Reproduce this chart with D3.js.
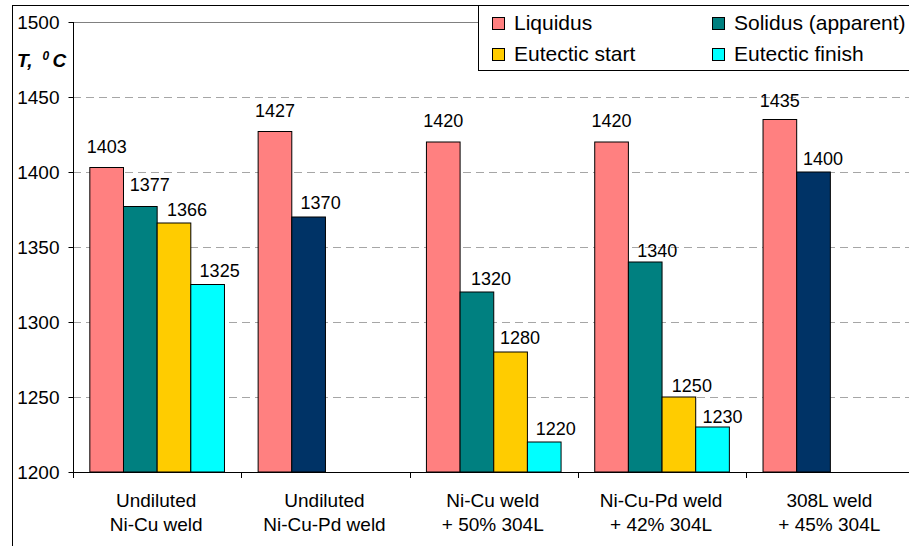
<!DOCTYPE html>
<html>
<head>
<meta charset="utf-8">
<script src="https://cdn.jsdelivr.net/npm/d3@7"></script>
<style>
  html, body { margin: 0; padding: 0; background: #fff; }
  svg { display: block; font-family: "Liberation Sans", Arial, sans-serif; }
</style>
</head>
<body>
<svg id="chart" width="909" height="546"></svg>
<script>
// ---- data ----
const categories = [
  ["Undiluted", "Ni-Cu weld"],
  ["Undiluted", "Ni-Cu-Pd weld"],
  ["Ni-Cu weld", "+ 50% 304L"],
  ["Ni-Cu-Pd weld", "+ 42% 304L"],
  ["308L weld", "+ 45% 304L"]
];
const seriesNames = ["Liquidus", "Solidus (apparent)", "Eutectic start", "Eutectic finish"];
const liquidus  = [1403, 1427, 1420, 1420, 1435];
const solidus   = [1377, 1370, 1320, 1340, 1400];
const eutStart  = [1366, null, 1280, 1250, null];
const eutFinish = [1325, null, 1220, 1230, null];
const yTicks = [1200, 1250, 1300, 1350, 1400, 1450, 1500];

// ---- styling / layout (not data) ----
const seriesColors = ["#FF8080", "#008080", "#FFCC00", "#00FFFF"];
const solidusAltColor = "#003366";
const solidusAltGroups = [1, 4];
// label nudges [dx, gap above bar top] per series per group
const labelNudge = [
  [[0, 14.5], [0, 14.5], [0, 15], [0, 15], [0, 13]],
  [[9.5, 16], [12, 8], [14, 7], [12, 5], [9.5, 7]],
  [[13, 7], null, [9.5, 8], [13, 5], null],
  [[12, 7.5], null, [11.5, 7], [10, 4], null]
];

const seriesValues = [liquidus, solidus, eutStart, eutFinish];

const svg = d3.select("#chart");
const plotLeft = 73, plotTop = 22, plotBottom = 472;
const groupW = 168.3;
const plotRight = plotLeft + groupW * categories.length;

const x0 = d3.scaleBand().domain(d3.range(categories.length)).range([plotLeft, plotRight]).padding(0);
const x1 = d3.scaleBand().domain(d3.range(seriesNames.length)).range([0, x0.bandwidth()])
  .paddingInner(0).paddingOuter(0.5);
const y = d3.scaleLinear().domain([1200, 1500]).range([plotBottom, plotTop]);

// outer chart frame
svg.append("rect").attr("x", 12.5).attr("y", 5.5).attr("width", 1000).attr("height", 1000)
  .attr("fill", "none").attr("stroke", "#000").attr("stroke-width", 1);

// gridlines
svg.append("g").selectAll("line").data(yTicks.filter(t => t > 1200 && t < 1500)).join("line")
  .attr("x1", plotLeft).attr("x2", plotRight)
  .attr("y1", d => Math.round(y(d)) + 0.5).attr("y2", d => Math.round(y(d)) + 0.5)
  .attr("stroke", "#A6A6A6").attr("stroke-width", 1).attr("stroke-dasharray", "8,5");

// plot area top border
svg.append("line").attr("x1", plotLeft).attr("x2", plotRight)
  .attr("y1", Math.round(y(1500)) + 0.5).attr("y2", Math.round(y(1500)) + 0.5)
  .attr("stroke", "#808080").attr("stroke-width", 1);

// bars
const barData = [];
seriesValues.forEach((vals, s) => {
  vals.forEach((v, g) => {
    if (v == null) return;
    let color = seriesColors[s];
    if (s === 1 && solidusAltGroups.includes(g)) color = solidusAltColor;
    barData.push({ s, g, v, color, nudge: labelNudge[s][g] });
  });
});

svg.append("g").selectAll("rect").data(barData).join("rect")
  .attr("x", d => x0(d.g) + x1(d.s))
  .attr("y", d => y(d.v))
  .attr("width", x1.bandwidth())
  .attr("height", d => plotBottom - y(d.v))
  .attr("fill", d => d.color)
  .attr("stroke", "#000").attr("stroke-width", 1);

// data labels
svg.append("g").selectAll("text").data(barData).join("text")
  .attr("x", d => x0(d.g) + x1(d.s) + x1.bandwidth() / 2 + d.nudge[0])
  .attr("y", d => y(d.v) - d.nudge[1])
  .attr("text-anchor", "middle")
  .attr("font-size", 18).attr("fill", "#000")
  .text(d => d.v);

// y axis
const yAxis = d3.axisLeft(y).tickValues(yTicks).tickSize(5).tickPadding(9).tickFormat(d3.format("d"));
const gy = svg.append("g").attr("transform", `translate(${plotLeft + 0.5},0)`).call(yAxis);
gy.select(".domain").attr("stroke", "#000").attr("d", `M0,${plotTop}V${plotBottom}`);
gy.selectAll(".tick line").attr("stroke", "#000");
gy.selectAll(".tick text").attr("font-size", 19).attr("fill", "#000")
  .attr("font-family", "Liberation Sans, Arial, sans-serif").attr("dy", "0.36em");

// x axis
const boundaries = d3.range(categories.length + 1).map(i => plotLeft + i * x0.step());
const gx = svg.append("g");
gx.append("line").attr("x1", plotLeft).attr("x2", plotRight)
  .attr("y1", plotBottom + 0.5).attr("y2", plotBottom + 0.5).attr("stroke", "#000");
gx.selectAll("line.tk").data(boundaries).join("line").attr("class", "tk")
  .attr("x1", d => Math.round(d) + 0.5).attr("x2", d => Math.round(d) + 0.5)
  .attr("y1", plotBottom).attr("y2", plotBottom + 6).attr("stroke", "#000");
const cat = gx.selectAll("text.cat").data(categories).join("text").attr("class", "cat")
  .attr("text-anchor", "middle").attr("font-size", 19).attr("fill", "#000");
cat.append("tspan").attr("x", (d, i) => x0(i) + x0.bandwidth() / 2 - 1).attr("y", 507).text(d => d[0]);
cat.append("tspan").attr("x", (d, i) => x0(i) + x0.bandwidth() / 2 - 1).attr("y", 531).text(d => d[1]);

// y axis title
const yt = svg.append("g").attr("font-weight", "bold").attr("font-style", "italic").attr("fill", "#000");
yt.append("text").attr("x", 17).attr("y", 66.5).attr("font-size", 19).text("T,");
yt.append("text").attr("x", 42.5).attr("y", 59.5).attr("font-size", 12).text("0");
yt.append("text").attr("x", 52.5).attr("y", 66.5).attr("font-size", 19).text("C");

// legend
const lg = svg.append("g");
lg.append("rect").attr("x", 478.5).attr("y", 5.5).attr("width", 500).attr("height", 65)
  .attr("fill", "#fff").attr("stroke", "#000");
const legendPos = [[492, 17], [712, 17], [492, 48], [712, 48]];
const legendOrder = [0, 1, 2, 3];
legendOrder.forEach((s, i) => {
  const [lx, ly] = legendPos[i];
  lg.append("rect").attr("x", lx + 0.5).attr("y", ly + 0.5).attr("width", 12).attr("height", 12)
    .attr("fill", seriesColors[s]).attr("stroke", "#000");
  lg.append("text").attr("x", lx + 22).attr("y", ly + 12.5).attr("font-size", 21).attr("fill", "#000")
    .text(seriesNames[s]);
});
</script>
</body>
</html>
